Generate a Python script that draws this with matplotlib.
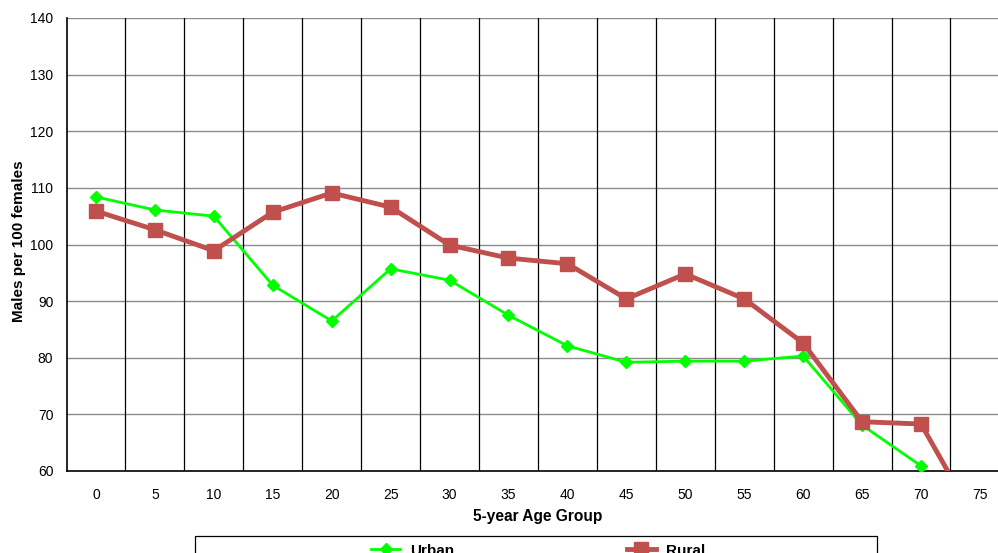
import matplotlib
matplotlib.use("Agg")
import matplotlib.pyplot as plt
from matplotlib.patches import Rectangle
import numpy as np

plt.rcParams['font.family'] = ['Liberation Sans', 'DejaVu Sans']

age_groups = ["0", "5", "10", "15", "20", "25", "30", "35", "40", "45", "50", "55", "60", "65", "70", "75"]
urban = [108.4, 106.1, 105.0, 92.8, 86.5, 95.7, 93.7, 87.5, 82.1, 79.2, 79.4, 79.4, 80.3, 68.1, 60.9, 40.0]
rural = [105.9, 102.6, 98.9, 105.7, 109.1, 106.6, 99.9, 97.6, 96.6, 90.4, 94.8, 90.4, 82.6, 68.7, 68.3, 50.0]
y_ticks = [60, 70, 80, 90, 100, 110, 120, 130, 140]

W, H = 998, 553
fig = plt.figure(figsize=(W / 100, H / 100), dpi=100)
left_px, right_px, top_px, bottom_px = 66.5, 1009.4, 18, 471
ax = fig.add_axes([left_px / W, 1 - bottom_px / H, (right_px - left_px) / W, (bottom_px - top_px) / H])

x = np.arange(len(age_groups))
ax.set_xlim(-0.5, len(age_groups) - 0.5)
ax.set_ylim(60, 140)

# grid
for yt in y_ticks[1:]:
    ax.axhline(yt, color='#8c8c8c', lw=1.0, zorder=1)
for b in np.arange(0.5, len(age_groups) - 0.5, 1.0):
    ax.axvline(b, color='#000000', lw=0.9, zorder=1)

ax.plot(x, urban, color='#00ff00', lw=2.0, marker='D', markersize=6.5, zorder=3, label='Urban', clip_on=True)
ax.plot(x, rural, color='#c0504d', lw=3.5, marker='s', markersize=9.5, zorder=4, label='Rural', clip_on=True)

for s in ['top', 'right']:
    ax.spines[s].set_visible(False)
ax.spines['left'].set_linewidth(1.2)
ax.spines['bottom'].set_linewidth(1.2)

ax.set_xticks(x)
ax.set_xticklabels(age_groups, fontsize=10)
ax.set_yticks(y_ticks)
ax.set_yticklabels([str(v) for v in y_ticks], fontsize=10)
ax.tick_params(axis='both', length=0)
ax.tick_params(axis='x', pad=12.5)
ax.tick_params(axis='y', pad=9.5)

fig.text(538 / W, 1 - 516 / H, "5-year Age Group", ha='center', va='center', fontsize=11.2, fontweight='bold')
fig.text(19 / W, 1 - 241 / H, "Males per 100 females", ha='center', va='center', rotation=90, fontsize=11, fontweight='bold')

# legend
fig.patches.append(Rectangle((195 / W, -0.05), (877 - 195) / W, 0.05 + (553 - 536) / H,
                             transform=fig.transFigure, fill=False, edgecolor='#000000', lw=0.9))
handles, labels = ax.get_legend_handles_labels()
leg = fig.legend(handles, labels, loc='upper center', bbox_to_anchor=(538 / W, 1 - 530 / H), ncol=2,
                 frameon=False, columnspacing=11.3, handlelength=1.9, handletextpad=0.65,
                 prop={'weight': 'bold', 'size': 11})

fig.savefig("out.png", dpi=100)
